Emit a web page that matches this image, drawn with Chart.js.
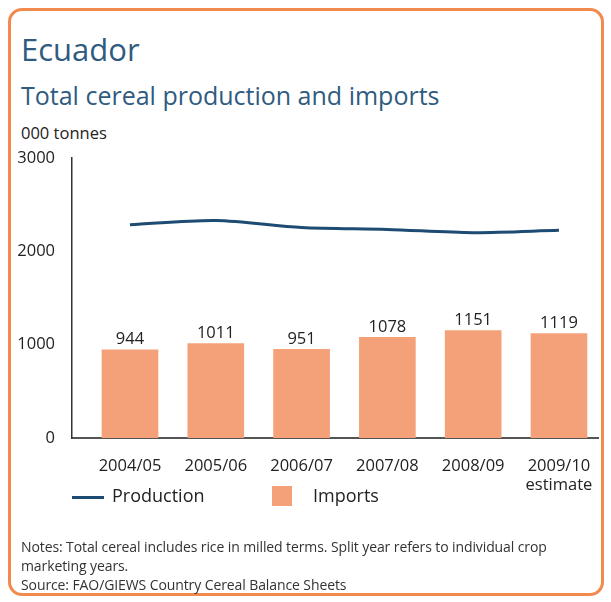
<!DOCTYPE html>
<html lang="en">
<head>
    <meta charset="UTF-8">
    <title>Ecuador - Total cereal production and imports</title>
    <script src="https://cdn.jsdelivr.net/npm/chart.js@4.4.1/dist/chart.umd.min.js"></script>
    <style>
        html, body { margin: 0; padding: 0; background: #fff; }
        body { width: 611px; height: 602px; position: relative; overflow: hidden; font-family: "Open Sans", sans-serif; }
        .frame {
            position: absolute; left: 8px; top: 8px; width: 596px; height: 588px;
            border: 3px solid #f28a4e; border-radius: 14px; box-sizing: border-box;
        }
        .txt { position: absolute; margin: 0; white-space: nowrap; }
        .title { left: 21px; top: 28px; font-size: 31px; color: #2f5b80; }
        .subtitle { left: 21px; top: 78px; font-size: 25px; color: #2f5b80; }
        .unit { left: 21px; top: 121px; font-size: 16.5px; color: #222; }
        .notes { left: 21px; top: 537px; font-size: 14px; color: #333; line-height: 19px; letter-spacing: -0.1px; }
        .legend { position: absolute; top: 484px; left: 72px; font-size: 18px; color: #222; }
        .lg-line { position: absolute; left: 0; top: 12px; width: 32px; height: 3px; background: #1d4b73; }
        .lg-box { position: absolute; left: 200px; top: 2px; width: 20px; height: 20px; background: #f4a17a; }
        .lg-t1 { position: absolute; left: 40px; top: -1px; }
        .lg-t2 { position: absolute; left: 241px; top: -1px; }
        canvas { position: absolute; left: 0; top: 0; }
    </style>
</head>
<body>
    <div class="frame"></div>
    <p class="txt title">Ecuador</p>
    <p class="txt subtitle">Total cereal production and imports</p>
    <p class="txt unit">000 tonnes</p>

    <div style="position:absolute;left:0;top:0;width:611px;height:602px;">
        <canvas id="cerealChart" width="611" height="602"></canvas>
    </div>

    <div class="legend">
        <div class="lg-line"></div><span class="lg-t1 txt">Production</span>
        <div class="lg-box"></div><span class="lg-t2 txt">Imports</span>
    </div>

    <p class="txt notes">Notes: Total cereal includes rice in milled terms. Split year refers to individual crop<br>marketing years.<br>Source: FAO/GIEWS Country Cereal Balance Sheets</p>

    <script>
        // values (000 tonnes)
        const years = ['2004/05', '2005/06', '2006/07', '2007/08', '2008/09', ['2009/10', 'estimate']];
        const imports = [944, 1011, 951, 1078, 1151, 1119];
        const production = [2285, 2330, 2255, 2235, 2200, 2225];
        const yTicks = [0, 1000, 2000, 3000];

        // small plugin to write the import figures above each bar
        const barValues = {
            id: 'barValues',
            afterDatasetsDraw(chart) {
                const ctx = chart.ctx;
                const meta = chart.getDatasetMeta(1);
                ctx.save();
                ctx.font = '16.5px "Open Sans", sans-serif';
                ctx.fillStyle = '#222';
                ctx.textAlign = 'center';
                ctx.textBaseline = 'bottom';
                meta.data.forEach((bar, i) => {
                    ctx.fillText(imports[i], bar.x, bar.y - 2);
                });
                ctx.restore();
            }
        };

        const ctx = document.getElementById('cerealChart').getContext('2d');
        const chart = new Chart(ctx, {
            type: 'bar',
            data: {
                datasets: [{
                    type: 'line',
                    label: 'Production',
                    data: production.map((v, i) => ({ x: i, y: v })),
                    borderColor: '#1d4b73',
                    borderWidth: 3,
                    pointRadius: 0,
                    tension: 0.3,
                    order: 0
                }, {
                    type: 'bar',
                    label: 'Imports',
                    data: imports.map((v, i) => ({ x: i, y: v })),
                    backgroundColor: '#f4a17a',
                    barThickness: 56,
                    order: 1
                }]
            },
            options: {
                responsive: false,
                animation: false,
                layout: { padding: { top: 158, right: 13, bottom: 104, left: 0 } },
                plugins: { legend: { display: false }, tooltip: { enabled: false } },
                scales: {
                    x: {
                        type: 'linear',
                        offset: false,
                        min: -0.676,
                        max: 5.455,
                        afterBuildTicks: s => { s.ticks = years.map((y, i) => ({ value: i })); },
                        afterFit: s => { s.height = 60; },
                        grid: { display: false },
                        border: { display: true, color: '#555', width: 2 },
                        ticks: {
                            autoSkip: false,
                            maxRotation: 0,
                            padding: 10,
                            color: '#222',
                            font: { family: 'Open Sans', size: 16.5 },
                            callback: (v) => years[v]
                        }
                    },
                    y: {
                        min: 0,
                        max: 3000,
                        afterBuildTicks: s => { s.ticks = yTicks.map(v => ({ value: v })); },
                        afterFit: s => { s.width = 72; },
                        grid: { display: false },
                        border: { display: true, color: '#333', width: 1.5 },
                        ticks: {
                            padding: 9,
                            color: '#222',
                            font: { family: 'Open Sans', size: 16.5 },
                            callback: (v) => String(v)
                        }
                    }
                }
            },
            plugins: [barValues]
        });
    </script>
</body>
</html>
